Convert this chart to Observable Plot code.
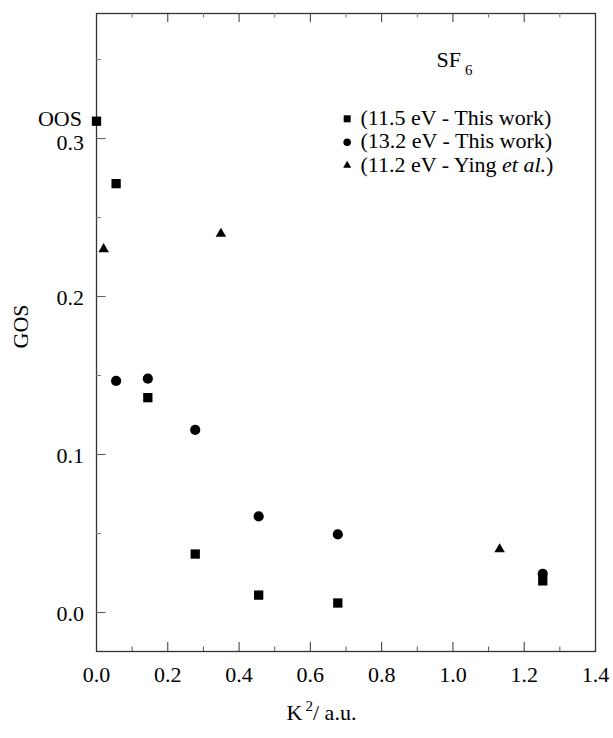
<!DOCTYPE html>
<html>
<head>
<meta charset="utf-8">
<script src="https://cdn.jsdelivr.net/npm/d3@7"></script>
<script src="https://cdn.jsdelivr.net/npm/@observablehq/plot@0.6"></script>
<style>
  body { margin: 0; background: #fff; }
  #chart svg { display: block; }
</style>
</head>
<body>
<div id="chart"></div>
<script>
// ---- data ----
const kSquare   = [0.0, 0.055, 0.144, 0.277, 0.455, 0.677, 1.252];
const gosSquare = [0.311, 0.2715, 0.136, 0.037, 0.011, 0.006, 0.020];

const kCircle   = [0.055, 0.144, 0.277, 0.455, 0.677, 1.252];
const gosCircle = [0.1466, 0.148, 0.1156, 0.0608, 0.0494, 0.0245];

const kTriangle   = [0.020, 0.349, 1.131];
const gosTriangle = [0.2300, 0.2398, 0.0400];

const oosPoint = [{k: 0.0, gos: 0.311, label: "OOS"}];

const xMajorTicks = [0.0, 0.2, 0.4, 0.6, 0.8, 1.0, 1.2, 1.4];
const xMinorTicks = [0.1, 0.3, 0.5, 0.7, 0.9, 1.1, 1.3];
const yMajorTicks = [0.0, 0.1, 0.2, 0.3];
const yMinorTicks = [0.05, 0.15, 0.25, 0.35];

const legendLabels = ["(11.5 eV - This work)", "(13.2 eV - This work)", "(11.2 eV - Ying et al.)"];
const legendSymbols = ["square", "circle", "triangle"];
const chartTitle = "SF6";
const xTitle = "K2/ a.u.";
const yTitle = "GOS";

// ---- layout ----
const W = 613, H = 738;
const mL = 96, mR = 18, mT = 13, mB = 87;
const pW = W - mL - mR, pH = H - mT - mB;
const font = "'Liberation Serif', 'Times New Roman', Times, serif";

const toPts = (xs, ys) => xs.map((k, i) => ({k, gos: ys[i]}));
const squares = toPts(kSquare, gosSquare);
const circles = toPts(kCircle, gosCircle);
const triangles = toPts(kTriangle, gosTriangle);

const legendRadius = {square: 3.95, circle: 3.8, triangle: 3.0};
const legendRowDy = [105.3, 128.7, 152];

const chart = Plot.plot({
  width: W,
  height: H,
  marginLeft: mL,
  marginRight: mR,
  marginTop: mT,
  marginBottom: mB,
  style: {fontFamily: font, fontSize: "22px", background: "#fff", color: "#000", overflow: "visible"},
  x: {domain: [0, 1.4], axis: null},
  y: {domain: [-0.0247, 0.3792], axis: null},
  marks: [
    Plot.frame({stroke: "#333", strokeWidth: 1.3}),
    // bottom ticks (inward)
    Plot.tickX(xMajorTicks, {x: d => d, stroke: "#333", insetTop: pH - 9}),
    Plot.tickX(xMinorTicks, {x: d => d, stroke: "#555", insetTop: pH - 4.5}),
    // top ticks (inward)
    Plot.tickX(xMajorTicks, {x: d => d, stroke: "#333", insetBottom: pH - 9}),
    Plot.tickX(xMinorTicks, {x: d => d, stroke: "#777", insetBottom: pH - 4.5}),
    // left ticks (inward)
    Plot.tickY(yMajorTicks, {y: d => d, stroke: "#555", insetRight: pW - 9.5}),
    Plot.tickY(yMinorTicks, {y: d => d, stroke: "#777", insetRight: pW - 5}),
    // tick labels
    Plot.axisX(xMajorTicks, {tickSize: 0, tickPadding: 15, tickFormat: d3.format(".1f"), label: null, fontSize: 22}),
    Plot.axisY(yMajorTicks.slice(0, 3), {tickSize: 0, tickPadding: 12.5, dy: 1, tickFormat: d3.format(".1f"), label: null, fontSize: 22}),
    Plot.axisY(yMajorTicks.slice(3), {tickSize: 0, tickPadding: 12.5, dy: 4, tickFormat: d3.format(".1f"), label: null, fontSize: 22}),
    // axis titles
    Plot.text([xTitle], {frameAnchor: "bottom", dx: -24.5, dy: 61, fontSize: 22, textAnchor: "middle", lineAnchor: "middle"}),
    Plot.text([yTitle], {frameAnchor: "left", dx: -76, dy: -6, rotate: -90, fontSize: 22, textAnchor: "middle", lineAnchor: "middle"}),
    // data
    Plot.dot(squares, {x: "k", y: "gos", symbol: "square", r: 5.25, fill: "#000", stroke: null}),
    Plot.dot(circles, {x: "k", y: "gos", symbol: "circle", r: 5.1, fill: "#000", stroke: null}),
    Plot.dot(triangles, {x: "k", y: "gos", symbol: "triangle", r: 3.9, fill: "#000", stroke: null}),
    // OOS label
    Plot.text(oosPoint, {x: "k", y: "gos", text: "label", dx: -14.5, dy: -2, textAnchor: "end", lineAnchor: "middle", fontSize: 22}),
    // title
    Plot.text([chartTitle], {frameAnchor: "top-left", dx: 340, dy: 46.6, textAnchor: "start", lineAnchor: "middle", fontSize: 22}),
    // legend
    ...legendLabels.map((lab, i) => Plot.dot([lab], {frameAnchor: "top-left", dx: 250.7, dy: legendRowDy[i], symbol: legendSymbols[i], r: legendRadius[legendSymbols[i]], fill: "#000", stroke: null})),
    ...legendLabels.map((lab, i) => Plot.text([lab], {frameAnchor: "top-left", dx: 264, dy: legendRowDy[i] - 1, textAnchor: "start", lineAnchor: "middle", fontSize: 22}))
  ]
});

// rich text post-processing (subscript, superscript, italics)
d3.select(chart).selectAll("text").each(function() {
  const t = d3.select(this);
  const s = this.textContent;
  if (s === chartTitle) {
    t.text(null);
    t.append("tspan").text("SF");
    t.append("tspan").attr("font-size", 15).attr("dx", 4).attr("dy", 8).text("6");
  } else if (s === xTitle) {
    t.text(null);
    t.append("tspan").text("K");
    t.append("tspan").attr("font-size", 15).attr("dx", 3).attr("dy", -9).text("2");
    t.append("tspan").attr("dy", 9).text("/ a.u.");
  } else if (s === legendLabels[2]) {
    t.text(null);
    t.append("tspan").text("(11.2 eV - Ying ");
    t.append("tspan").attr("font-style", "italic").text("et al.");
    t.append("tspan").text(")");
  }
});

document.getElementById("chart").appendChild(chart);
</script>
</body>
</html>
